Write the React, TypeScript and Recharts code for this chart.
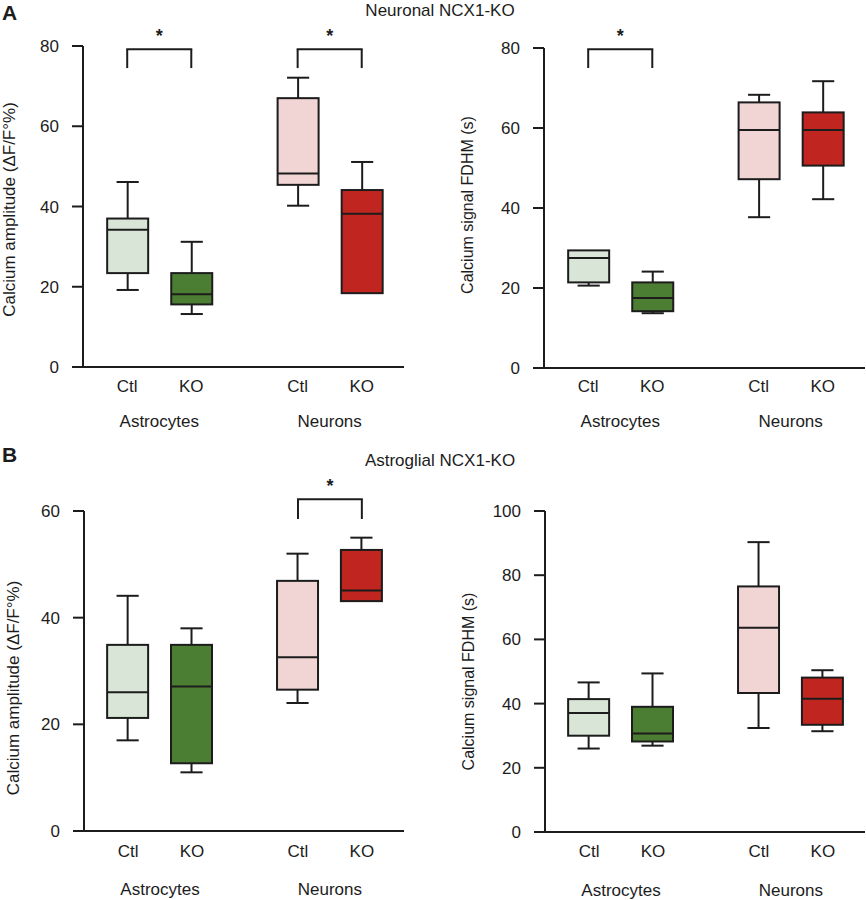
import React from 'react'
import { ComposedChart, Bar, XAxis, YAxis, ReferenceLine, Label } from 'recharts'

const INK = '#1c1c1c'
const FONT = '"Liberation Sans", Arial, Helvetica, sans-serif'

const GROUPS = ['Astrocytes', 'Neurons']
const CONDITIONS = ['Ctl', 'KO', 'Ctl', 'KO']
const BOX_FILLS = ['#d9e6d7', '#4b7e32', '#f1d5d5', '#c1251f']

// [min, q1, median, q3, max] for astro Ctl, astro KO, neuron Ctl, neuron KO
const neuronalAmplitude = [
  [19.2, 23.4, 34.2, 37, 46.1],
  [13.2, 15.6, 18.1, 23.4, 31.2],
  [40.2, 45.4, 48.2, 67, 72.1],
  [18.4, 18.4, 38.2, 44.1, 51.1]
]
const neuronalFdhm = [
  [20.6, 21.4, 27.5, 29.4, 29.4],
  [13.7, 14.2, 17.5, 21.4, 24.1],
  [37.7, 47.2, 59.5, 66.4, 68.3],
  [42.2, 50.6, 59.5, 63.9, 71.7]
]
const astroglialAmplitude = [
  [17, 21.2, 26, 34.9, 44.1],
  [11, 12.7, 27.1, 34.9, 38],
  [24, 26.5, 32.6, 46.9, 52],
  [43.1, 43.1, 45.1, 52.7, 55]
]
const astroglialFdhm = [
  [26, 30, 37.1, 41.4, 46.6],
  [26.9, 28.2, 30.7, 39, 49.4],
  [32.4, 43.3, 63.6, 76.5, 90.3],
  [31.4, 33.4, 41.5, 48.1, 50.4]
]

const TICKS_80 = [0, 20, 40, 60, 80]
const TICKS_60 = [0, 20, 40, 60]
const TICKS_100 = [0, 20, 40, 60, 80, 100]

// significance brackets: box indices and bracket foot / top values
const neuronalAmplitudeSig = [
  { from: 0, to: 1, foot: 74.5, top: 79.2 },
  { from: 2, to: 3, foot: 74.5, top: 79.2 }
]
const neuronalFdhmSig = [{ from: 0, to: 1, foot: 75, top: 79.7 }]
const astroglialAmplitudeSig = [{ from: 2, to: 3, foot: 58.5, top: 62.2 }]

// layout on the numeric x axis
const BOX_POS = [1, 2, 3.66, 4.66]
const GROUP_POS = [1.5, 4.16]
const X_DOMAIN = [0.31, 5.32]

const BoxShape = (props: any) => {
  const { x, y, width, height, payload } = props
  const [lo, q1, med, q3, hi] = payload.stats
  const top = Math.min(y, y + height)
  const h = Math.abs(height)
  const k = h / (q3 - q1)
  const py = (v: number) => top + (q3 - v) * k
  const cx = x + width / 2
  const cap = width * 0.27
  return (
    <g stroke={INK} strokeWidth={2}>
      {hi > q3 && <line x1={cx} x2={cx} y1={py(hi)} y2={top} />}
      {hi > q3 && <line x1={cx - cap} x2={cx + cap} y1={py(hi)} y2={py(hi)} />}
      {lo < q1 && <line x1={cx} x2={cx} y1={top + h} y2={py(lo)} />}
      {lo < q1 && <line x1={cx - cap} x2={cx + cap} y1={py(lo)} y2={py(lo)} />}
      <rect x={x} y={top} width={width} height={h} fill={payload.fill} />
      <line x1={x} x2={x + width} y1={py(med)} y2={py(med)} />
    </g>
  )
}

const AxisTitle = (props: any) => {
  const { viewBox, text, dx, dy, size } = props
  const cx = viewBox.x + dx
  const cy = viewBox.y + viewBox.height / 2 + dy
  return (
    <text
      transform={`translate(${cx},${cy}) rotate(-90)`}
      textAnchor="middle"
      dominantBaseline="central"
      fontSize={size}
      fill={INK}
    >
      {text}
    </text>
  )
}

interface PanelProps {
  stats: number[][]
  yMax: number
  yTicks: number[]
  yLabel: string
  sig: { from: number; to: number; foot: number; top: number }[]
  left: number
  top: number
  height: number
  margin: { top: number; right: number; bottom: number; left: number }
  yWidth: number
  xHeight: number
  grpHeight: number
  tickGap: number
  labelDx: number
  labelDy: number
  labelSize: number
}

const BoxPanel = (p: PanelProps) => {
  const data = p.stats.map((s, i) => ({ pos: BOX_POS[i], stats: s, fill: BOX_FILLS[i] }))
  const axisStyle = { stroke: INK, strokeWidth: 2 }
  return (
    <div style={{ position: 'absolute', left: p.left, top: p.top }}>
      <ComposedChart width={433} height={p.height} data={data} margin={p.margin}>
        <XAxis
          dataKey="pos"
          type="number"
          domain={X_DOMAIN}
          ticks={BOX_POS}
          interval={0}
          tickFormatter={(v: number) => CONDITIONS[BOX_POS.indexOf(v)]}
          axisLine={axisStyle}
          tickLine={false}
          tickSize={0}
          tickMargin={p.tickGap}
          height={p.xHeight}
          tick={{ fill: INK, fontSize: 17 }}
        />
        <XAxis
          xAxisId="grp"
          dataKey="pos"
          type="number"
          domain={X_DOMAIN}
          ticks={GROUP_POS}
          interval={0}
          tickFormatter={(v: number) => GROUPS[GROUP_POS.indexOf(v)]}
          axisLine={false}
          tickLine={false}
          tickSize={0}
          tickMargin={0}
          height={p.grpHeight}
          tick={{ fill: INK, fontSize: 17 }}
        />
        <YAxis
          type="number"
          domain={[0, p.yMax]}
          ticks={p.yTicks}
          interval={0}
          width={p.yWidth}
          axisLine={axisStyle}
          tickLine={axisStyle}
          tickSize={11}
          tickMargin={13}
          tick={{ fill: INK, fontSize: 17 }}
        >
          <Label
            content={(lp: any) => (
              <AxisTitle {...lp} text={p.yLabel} dx={p.labelDx} dy={p.labelDy} size={p.labelSize} />
            )}
          />
        </YAxis>
        <Bar
          dataKey={(d: any) => [d.stats[1], d.stats[3]]}
          barSize={41}
          shape={BoxShape}
          isAnimationActive={false}
        />
        {p.sig.flatMap((s, k) => {
          const a = BOX_POS[s.from]
          const b = BOX_POS[s.to]
          return [
            <ReferenceLine
              key={`l${k}`}
              segment={[{ x: a, y: s.foot }, { x: a, y: s.top }]}
              stroke={INK}
              strokeWidth={2}
              ifOverflow="visible"
            />,
            <ReferenceLine
              key={`r${k}`}
              segment={[{ x: b, y: s.foot }, { x: b, y: s.top }]}
              stroke={INK}
              strokeWidth={2}
              ifOverflow="visible"
            />,
            <ReferenceLine
              key={`t${k}`}
              segment={[{ x: a - 0.015, y: s.top }, { x: b + 0.015, y: s.top }]}
              stroke={INK}
              strokeWidth={2}
              ifOverflow="visible"
              label={{ value: '*', position: 'top', offset: 7, fill: INK, fontSize: 18, fontWeight: 700 }}
            />
          ]
        })}
      </ComposedChart>
    </div>
  )
}

const textStyle: React.CSSProperties = {
  position: 'absolute',
  color: INK,
  fontFamily: FONT,
  whiteSpace: 'nowrap'
}

export default function App() {
  return (
    <div
      style={{
        position: 'absolute',
        left: 0,
        top: 0,
        width: 866,
        height: 900,
        background: '#fff',
        fontFamily: FONT
      }}
    >
      <BoxPanel
        stats={neuronalAmplitude}
        yMax={80}
        yTicks={TICKS_80}
        yLabel="Calcium amplitude (ΔF/F°%)"
        sig={neuronalAmplitudeSig}
        left={0}
        top={0}
        height={440}
        margin={{ top: 46, right: 29, bottom: 5, left: 0 }}
        yWidth={83}
        xHeight={48}
        grpHeight={20}
        tickGap={13}
        labelDx={9}
        labelDy={3}
        labelSize={17}
      />
      <BoxPanel
        stats={neuronalFdhm}
        yMax={80}
        yTicks={TICKS_80}
        yLabel="Calcium signal FDHM (s)"
        sig={neuronalFdhmSig}
        left={433}
        top={0}
        height={440}
        margin={{ top: 48, right: 1, bottom: 5, left: 0 }}
        yWidth={111}
        xHeight={47}
        grpHeight={20}
        tickGap={12}
        labelDx={34}
        labelDy={-3}
        labelSize={16}
      />
      <BoxPanel
        stats={astroglialAmplitude}
        yMax={60}
        yTicks={TICKS_60}
        yLabel="Calcium amplitude (ΔF/F°%)"
        sig={astroglialAmplitudeSig}
        left={0}
        top={440}
        height={460}
        margin={{ top: 71, right: 29, bottom: 2, left: 0 }}
        yWidth={84}
        xHeight={52}
        grpHeight={15}
        tickGap={14}
        labelDx={13}
        labelDy={17}
        labelSize={17}
      />
      <BoxPanel
        stats={astroglialFdhm}
        yMax={100}
        yTicks={TICKS_100}
        yLabel="Calcium signal FDHM (s)"
        sig={[]}
        left={433}
        top={440}
        height={460}
        margin={{ top: 71, right: 1, bottom: 1, left: 0 }}
        yWidth={112}
        xHeight={52}
        grpHeight={15}
        tickGap={13}
        labelDx={35}
        labelDy={10}
        labelSize={16}
      />
      <div style={{ ...textStyle, left: 2, top: 2, fontSize: 21, fontWeight: 700, lineHeight: '22px' }}>A</div>
      <div style={{ ...textStyle, left: 2, top: 444, fontSize: 21, fontWeight: 700, lineHeight: '22px' }}>B</div>
      <div style={{ ...textStyle, left: 340, width: 200, top: 1, fontSize: 17, lineHeight: '19px', textAlign: 'center' }}>
        Neuronal NCX1-KO
      </div>
      <div style={{ ...textStyle, left: 340, width: 200, top: 451, fontSize: 17, lineHeight: '19px', textAlign: 'center' }}>
        Astroglial NCX1-KO
      </div>
    </div>
  )
}
